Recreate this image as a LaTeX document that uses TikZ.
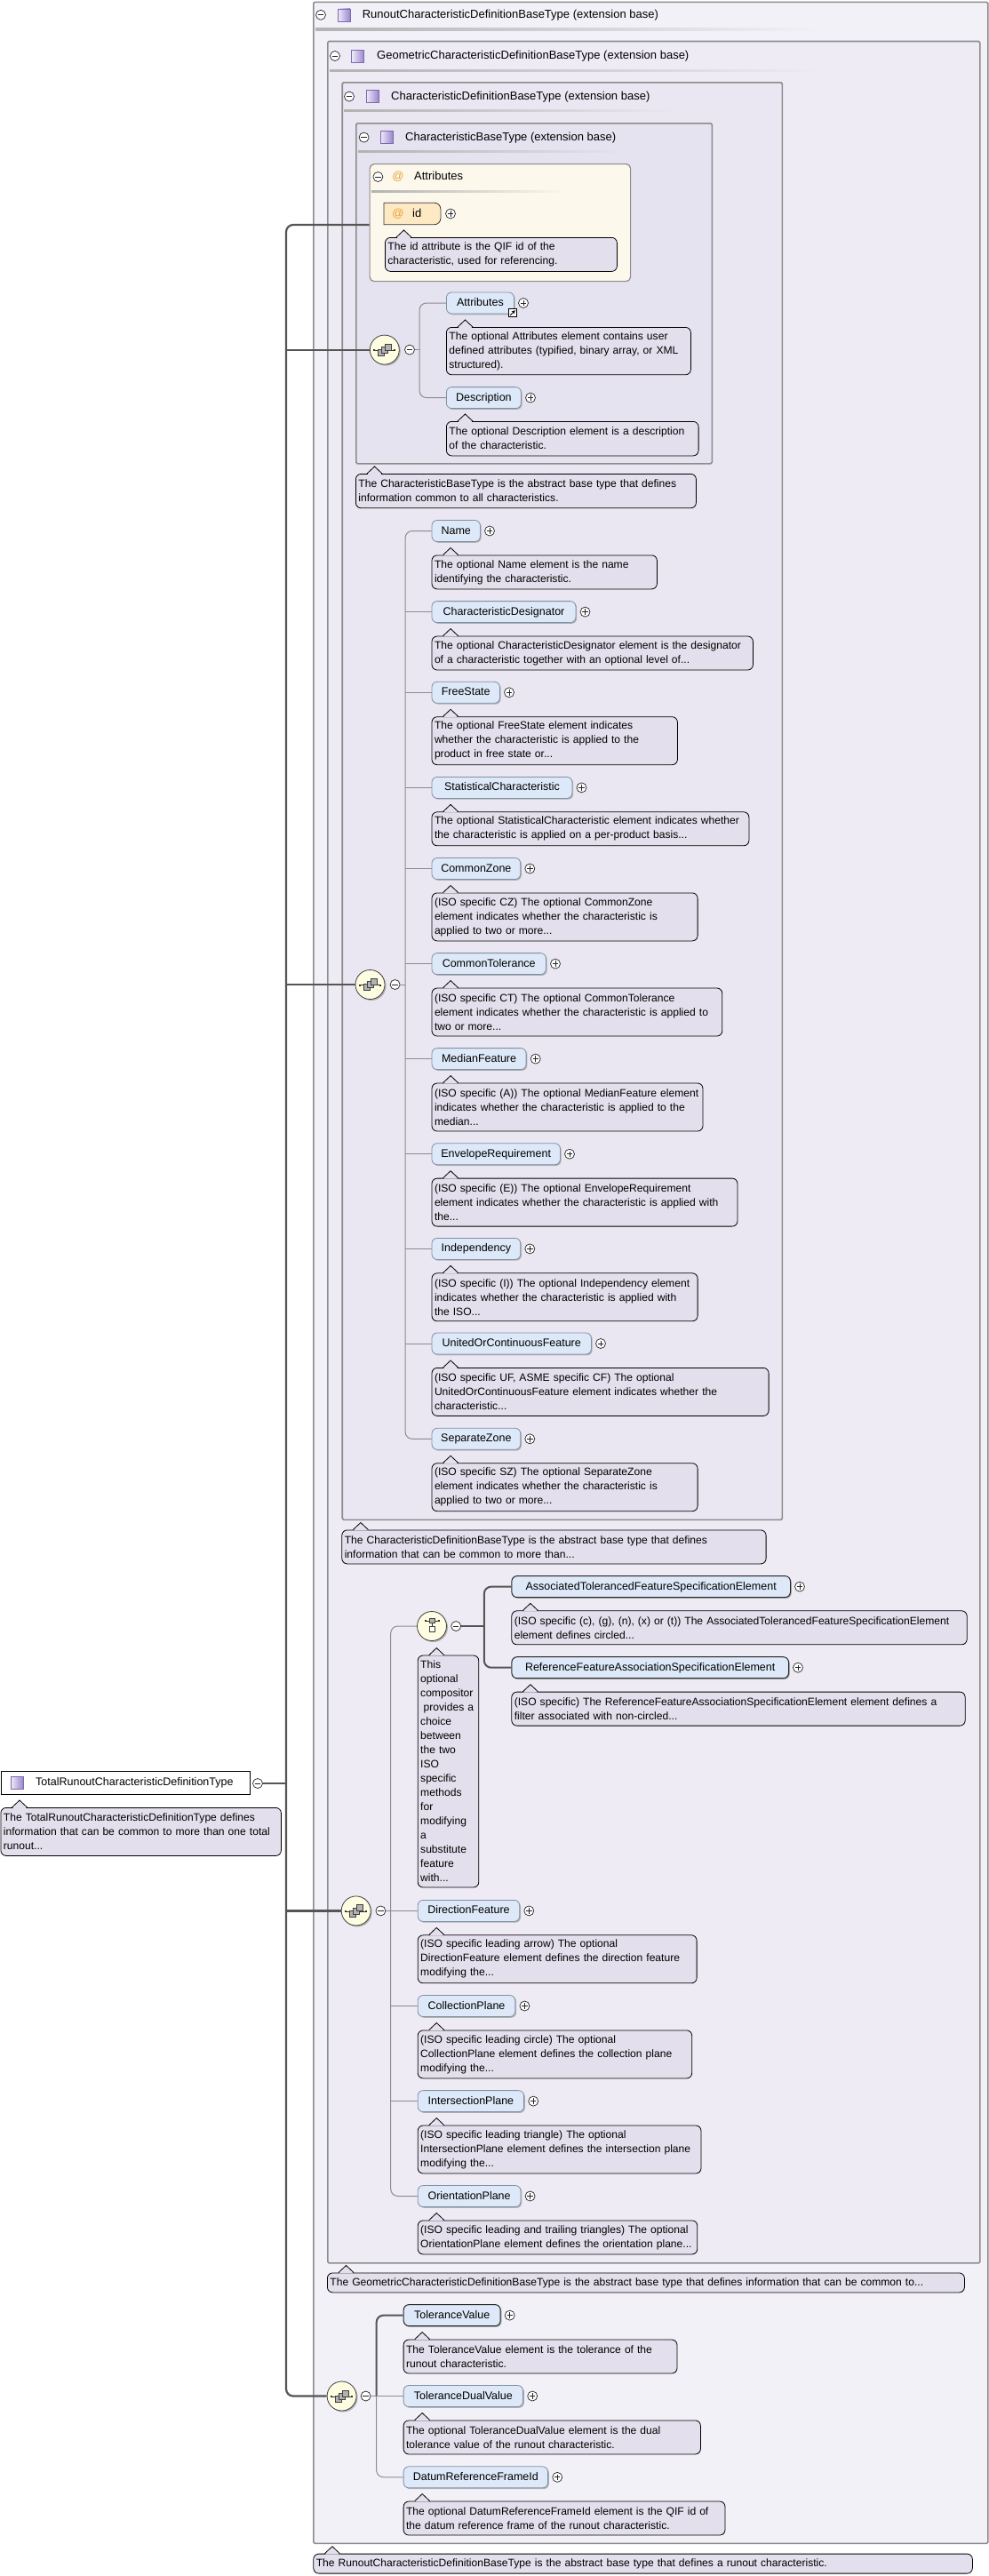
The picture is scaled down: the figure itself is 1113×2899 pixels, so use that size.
\documentclass[tikz,border=0pt]{standalone}
\usepackage{fontspec}
\setmainfont{Liberation Sans}
\usetikzlibrary{shadows}
\definecolor{bgRun}{RGB}{243,241,248}
\definecolor{bgGeo}{RGB}{238,235,245}
\definecolor{bgCD}{RGB}{234,231,242}
\definecolor{bgCB}{RGB}{230,227,240}
\definecolor{descfill}{RGB}{228,223,236}
\definecolor{elemfill}{RGB}{221,233,248}
\definecolor{elemline}{RGB}{128,144,166}
\definecolor{boxline}{RGB}{140,140,140}
\definecolor{trunkc}{RGB}{85,85,85}
\definecolor{thinc}{RGB}{140,140,140}
\definecolor{attrfill}{RGB}{253,248,236}
\definecolor{idfill}{RGB}{253,233,195}
\definecolor{atcolor}{RGB}{232,160,48}
\definecolor{seqfill}{RGB}{255,253,225}
\definecolor{iconA}{RGB}{240,236,250}
\definecolor{iconB}{RGB}{155,135,205}
\definecolor{iconline}{RGB}{125,105,175}
\newcommand\tf{\fontsize{12.5}{16}\selectfont}
\newcommand\hf{\fontsize{13}{16}\selectfont}
\newcommand\df{\fontsize{12.1}{16}\selectfont}
\tikzset{
  hbox/.style={draw=boxline, line width=1.6pt, anchor=north west, inner sep=0pt, rounded corners=1.5pt},
  htext/.style={anchor=west, inner sep=0pt, font=\hf, text height=9.5pt, text depth=2.5pt},
  elem/.style={draw=elemline, fill=elemfill, rounded corners=6pt, minimum height=24pt, inner sep=0pt,
    font=\tf, text height=9.5pt, text depth=2.5pt, anchor=west, line width=0.8pt,
    drop shadow={shadow xshift=1.3pt, shadow yshift=-1.3pt, fill=black!30, opacity=1}},
  reqelem/.style={draw=black!85, line width=1pt},
  desc/.style={draw=black, fill=descfill, rounded corners=6pt, line width=0.8pt, anchor=north west,
    inner xsep=3pt, inner ysep=3pt, font=\df, align=left},
  minusb/.style={circle, draw=black!85, fill=white, minimum size=11pt, inner sep=0pt, line width=0.7pt,
    path picture={\draw[line width=0.7pt] ([xshift=2.3pt]path picture bounding box.west) -- ([xshift=-2.3pt]path picture bounding box.east);}},
  plusb/.style={circle, draw=black!85, fill=white, minimum size=11pt, inner sep=0pt, line width=0.7pt,
    path picture={\draw[line width=0.7pt] ([xshift=2.3pt]path picture bounding box.west) -- ([xshift=-2.3pt]path picture bounding box.east)
      ([yshift=2.3pt]path picture bounding box.south) -- ([yshift=-2.3pt]path picture bounding box.north);}},
  cticon/.style={rectangle, minimum size=14pt, inner sep=0pt, draw=iconline, line width=0.6pt, left color=iconA, right color=iconB},
  seqicon/.style={circle, minimum size=33pt, inner sep=0pt, draw=black!75, fill=seqfill, line width=0.8pt,
    drop shadow={shadow xshift=1.5pt, shadow yshift=-1.5pt, fill=black!30, opacity=1},
    path picture={
      \coordinate (pc) at (path picture bounding box.center);
      \draw[black!80, line width=0.7pt] ([xshift=-12pt,yshift=-0.5pt]pc) -- ([xshift=12pt,yshift=-0.5pt]pc);
      \fill[black!80] ([xshift=-12.5pt,yshift=-1.5pt]pc) rectangle ++(2pt,2pt);
      \fill[black!80] ([xshift=10.5pt,yshift=-1.5pt]pc) rectangle ++(2pt,2pt);
      \foreach \d in {-4,0,4}{\draw[fill=gray!60, draw=black!75, line width=0.6pt] ([xshift={(\d-3.5)*1pt}, yshift={(0.8*\d-3.5)*1pt}]pc) rectangle ++(7pt,7pt);}
    }},
  choiceicon/.style={circle, minimum size=33pt, inner sep=0pt, draw=black!75, fill=seqfill, line width=0.8pt,
    drop shadow={shadow xshift=1.5pt, shadow yshift=-1.5pt, fill=black!30, opacity=1},
    path picture={
      \coordinate (pc) at (path picture bounding box.center);
      \draw[black!80, line width=0.7pt] ([xshift=-8pt,yshift=6pt]pc) -- ([xshift=8pt,yshift=6pt]pc);
      \fill[black!80] ([xshift=-8.5pt,yshift=5pt]pc) rectangle ++(2pt,2pt);
      \fill[black!80] ([xshift=6.5pt,yshift=5pt]pc) rectangle ++(2pt,2pt);
      \draw[black!80, line width=0.6pt] ([yshift=3.3pt]pc) -- ([yshift=-0.7pt]pc);
      \draw[fill=gray!60, draw=black!75, line width=0.6pt] ([xshift=-2.8pt,yshift=3.3pt]pc) rectangle ++(5.6pt,5.6pt);
      \draw[fill=white, draw=black!75, line width=0.6pt] ([xshift=-2.8pt,yshift=-6.3pt]pc) rectangle ++(5.6pt,5.6pt);
    }},
  trunk/.style={draw=trunkc, line width=2.2pt},
  thinl/.style={draw=thinc, line width=1pt}
}
% element: [extra]{name}{left}{right}{cy}{text}
\newcommand\elemnode[6][]{%
  \node[elem,minimum width={#4-#3},#1] (#2) at (#3,#5) {#6};
  \node[plusb] (#2p) at ({#4+11},#5) {};}
% description: {name}{left}{top}{right}{bottom}{lines}
\newcommand\descnode[6]{%
  \pgfmathsetmacro\dtw{#4-#2-6}%
  \node[desc, minimum width={#4-#2}, minimum height={#5-#3}, text width=\dtw pt] (#1) at (#2,#3) {#6};
  \fill[descfill] ([xshift=13.8pt,yshift=-0.8pt]#1.north west) -- ([xshift=21.5pt,yshift=7.2pt]#1.north west) -- ([xshift=29.2pt,yshift=-0.8pt]#1.north west) -- cycle;
  \draw[line width=0.8pt] ([xshift=13pt]#1.north west) -- ([xshift=21.5pt,yshift=8pt]#1.north west) -- ([xshift=30pt]#1.north west);}
% header: {name}{minus x}{y}{icon x}{text x}{text}{underline x0}{underline x1}{bg}
\newcommand\header[9]{%
  \node[minusb] (#1m) at (#2,#3) {};
  \node[cticon] (#1i) at (#4,#3) {};
  \node[htext] (#1t) at (#5,#3) {#6};
  \shade[left color=gray!60, right color=#9] (#7,{#3+15}) rectangle (#8,{#3+17.2});}
\begin{document}
\begin{tikzpicture}[x=1pt,y=-1pt]
\useasboundingbox[fill=white] (0,0) rectangle (1113,2899);
% ---------- nested type boxes ----------
\node[hbox, fill=bgRun, minimum width=759, minimum height=2860] (runout) at (352,1.5) {};
\node[hbox, fill=bgGeo, minimum width=734, minimum height=2500.3] (geo) at (368,45.7) {};
\node[hbox, fill=bgCD, minimum width=495.1, minimum height=1617.5] (chardef) at (384.4,92) {};
\node[hbox, fill=bgCB, minimum width=400.5, minimum height=383] (charbase) at (400,138) {};
\node[hbox, fill=attrfill, line width=1.2pt, rounded corners=5pt, minimum width=293.5, minimum height=132] (attrs) at (415.5,184) {};
\header{hr}{361}{16.8}{387}{407.6}{RunoutCharacteristicDefinitionBaseType (extension base)}{355}{925}{bgRun}
\header{hg}{377}{63}{402.5}{424}{GeometricCharacteristicDefinitionBaseType (extension base)}{371}{925}{bgGeo}
\header{hd}{393}{108.6}{419}{440}{CharacteristicDefinitionBaseType (extension base)}{387}{760}{bgCD}
\header{hb}{409.6}{154.6}{435}{456}{CharacteristicBaseType (extension base)}{403}{703}{bgCB}
% attributes group
\node[minusb] (attrsm) at (425.4,199) {};
\node[htext, text=atcolor, anchor=center] (attrsat) at (448,199) {@};
\node[htext] (attrst) at (466,199) {Attributes};
\shade[left color=gray!60, right color=attrfill] (418,214) rectangle (636,216.2);
\node[minimum width=63.5, minimum height=24, inner sep=0pt, anchor=west] (idn) at (432,240.5) {};
\draw[fill=idfill, draw=black!80, line width=0.8pt] (idn.south west) -- (idn.north west) [rounded corners=7pt] -- (idn.north east) -- (idn.south east) [sharp corners] -- cycle;
\node[htext, text=atcolor, anchor=center] (idat) at (448,240.5) {@};
\node[htext] (idt) at (464,240.5) {id};
\node[plusb] (idp) at (507,240.5) {};
\descnode{idd}{433}{267}{694}{305}{\mbox{The id attribute is the QIF id of the}\\\mbox{characteristic, used for referencing.}}
% ---------- sequence 1 ----------
\node[seqicon] (seq1) at (432.8,393.6) {};
\node[minusb] (seq1m) at (461,393.6) {};
\elemnode{elAttr}{502}{578}{341}{Attributes}
\node[draw=black, fill=white, line width=0.7pt, minimum size=9pt, inner sep=0pt] (attrlink) at (577,352) {};
\draw[line width=0.8pt, -stealth] ([shift={(-2.8pt,-2.8pt)}]attrlink.center) -- ([shift={(2.8pt,2.8pt)}]attrlink.center);
\descnode{dAttr}{502}{368}{777}{421.4}{\mbox{The optional Attributes element contains user}\\\mbox{defined attributes (typified, binary array, or XML}\\\mbox{structured).}}
\elemnode{elDesc}{502}{586}{447.6}{Description}
\descnode{dDesc}{502}{474}{785.7}{512.5}{\mbox{The optional Description element is a description}\\\mbox{of the characteristic.}}
\descnode{dCB}{400}{533}{783}{571.4}{\mbox{The CharacteristicBaseType is the abstract base type that defines}\\\mbox{information common to all characteristics.}}
% ---------- sequence 2 ----------
\node[seqicon] (seq2) at (416.5,1108) {};
\node[minusb] (seq2m) at (444.6,1108) {};
\elemnode{elName}{485.6}{540}{597.5}{Name}
\descnode{dName}{485.6}{624.5}{739}{662.5}{\mbox{The optional Name element is the name}\\\mbox{identifying the characteristic.}}
\elemnode{elCD}{485.6}{647.5}{688.6}{CharacteristicDesignator}
\descnode{dCD}{485.6}{715.6}{847}{753.6}{\mbox{The optional CharacteristicDesignator element is the designator}\\\mbox{of a characteristic together with an optional level of...}}
\elemnode{elFS}{485.6}{562}{779.3}{FreeState}
\descnode{dFS}{485.6}{806.3}{762}{860.3}{\mbox{The optional FreeState element indicates}\\\mbox{whether the characteristic is applied to the}\\\mbox{product in free state or...}}
\elemnode{elSC}{485.6}{643.5}{886.4}{StatisticalCharacteristic}
\descnode{dSC}{485.6}{913.4}{842.5}{951.4}{\mbox{The optional StatisticalCharacteristic element indicates whether}\\\mbox{the characteristic is applied on a per-product basis...}}
\elemnode{elCZ}{485.6}{585.3}{977.5}{CommonZone}
\descnode{dCZ}{485.6}{1004.5}{784.7}{1058.5}{\mbox{(ISO specific CZ) The optional CommonZone}\\\mbox{element indicates whether the characteristic is}\\\mbox{applied to two or more...}}
\elemnode{elCT}{485.6}{614}{1084.6}{CommonTolerance}
\descnode{dCT}{485.6}{1111.6}{812.4}{1165.6}{\mbox{(ISO specific CT) The optional CommonTolerance}\\\mbox{element indicates whether the characteristic is applied to}\\\mbox{two or more...}}
\elemnode{elMF}{485.6}{591.7}{1191.6}{MedianFeature}
\descnode{dMF}{485.6}{1218.6}{790.6}{1272.6}{\mbox{(ISO specific (A)) The optional MedianFeature element}\\\mbox{indicates whether the characteristic is applied to the}\\\mbox{median...}}
\elemnode{elER}{485.6}{630}{1298.7}{EnvelopeRequirement}
\descnode{dER}{485.6}{1325.7}{829.6}{1379.7}{\mbox{(ISO specific (E)) The optional EnvelopeRequirement}\\\mbox{element indicates whether the characteristic is applied with}\\\mbox{the...}}
\elemnode{elInd}{485.6}{585.3}{1405.4}{Independency}
\descnode{dInd}{485.6}{1432.4}{784.7}{1486.4}{\mbox{(ISO specific (I)) The optional Independency element}\\\mbox{indicates whether the characteristic is applied with}\\\mbox{the ISO...}}
\elemnode{elUC}{485.6}{665}{1512}{UnitedOrContinuousFeature}
\descnode{dUC}{485.6}{1539}{864.7}{1593}{\mbox{(ISO specific UF, ASME specific CF) The optional}\\\mbox{UnitedOrContinuousFeature element indicates whether the}\\\mbox{characteristic...}}
\elemnode{elSep}{485.6}{585.3}{1619.3}{SeparateZone}
\descnode{dSep}{485.6}{1646.3}{784.7}{1700.3}{\mbox{(ISO specific SZ) The optional SeparateZone}\\\mbox{element indicates whether the characteristic is}\\\mbox{applied to two or more...}}
\descnode{dCDT}{384.4}{1721.5}{861.7}{1759.5}{\mbox{The CharacteristicDefinitionBaseType is the abstract base type that defines}\\\mbox{information that can be common to more than...}}
% ---------- sequence 3 with choice ----------
\node[choiceicon] (choice) at (486,1830) {};
\node[minusb] (choicem) at (513.2,1830) {};
\elemnode[reqelem]{elAT}{575.4}{889}{1785.6}{AssociatedTolerancedFeatureSpecificationElement}
\descnode{dAT}{575.4}{1812.4}{1087.8}{1850.4}{\mbox{(ISO specific (c), (g), (n), (x) or (t)) The AssociatedTolerancedFeatureSpecificationElement}\\\mbox{element defines circled...}}
\elemnode[reqelem]{elRF}{575.4}{887}{1876.7}{ReferenceFeatureAssociationSpecificationElement}
\descnode{dRF}{575.4}{1903.7}{1085.8}{1941.7}{\mbox{(ISO specific) The ReferenceFeatureAssociationSpecificationElement element defines a}\\\mbox{filter associated with non-circled...}}
\descnode{dCh}{469.8}{1862.6}{538.4}{2123.6}{This\\optional\\\mbox{compositor}\\\hspace*{3.5pt}provides a\\choice\\between\\the two\\ISO\\specific\\methods\\for\\modifying\\a\\substitute\\feature\\with...}
\node[seqicon] (seq3) at (400.7,2150.4) {};
\node[minusb] (seq3m) at (428.4,2150.4) {};
\elemnode{elDF}{469.8}{584.3}{2150.4}{DirectionFeature}
\descnode{dDF}{469.8}{2177.4}{783.7}{2231.4}{\mbox{(ISO specific leading arrow) The optional}\\\mbox{DirectionFeature element defines the direction feature}\\\mbox{modifying the...}}
\elemnode{elCP}{469.8}{579.4}{2257.5}{CollectionPlane}
\descnode{dCP}{469.8}{2284.5}{778.3}{2338.5}{\mbox{(ISO specific leading circle) The optional}\\\mbox{CollectionPlane element defines the collection plane}\\\mbox{modifying the...}}
\elemnode{elIP}{469.8}{589.2}{2364.6}{IntersectionPlane}
\descnode{dIP}{469.8}{2391.6}{788.6}{2445.6}{\mbox{(ISO specific leading triangle) The optional}\\\mbox{IntersectionPlane element defines the intersection plane}\\\mbox{modifying the...}}
\elemnode{elOP}{469.8}{585.6}{2471.5}{OrientationPlane}
\descnode{dOP}{469.8}{2498.5}{784.4}{2536.5}{\mbox{(ISO specific leading and trailing triangles) The optional}\\\mbox{OrientationPlane element defines the orientation plane...}}
\descnode{dGeo}{368}{2557.5}{1085}{2579.5}{\mbox{The GeometricCharacteristicDefinitionBaseType is the abstract base type that defines information that can be common to...}}
% ---------- sequence 4 ----------
\node[seqicon] (seq4) at (384.6,2696.5) {};
\node[minusb] (seq4m) at (411.6,2696.5) {};
\elemnode[reqelem]{elTV}{453.7}{562.7}{2605.6}{ToleranceValue}
\descnode{dTV}{453.7}{2632.6}{761.6}{2670.6}{\mbox{The ToleranceValue element is the tolerance of the}\\\mbox{runout characteristic.}}
\elemnode{elTD}{453.7}{588.2}{2696.5}{ToleranceDualValue}
\descnode{dTD}{453.7}{2723.5}{788}{2761.5}{\mbox{The optional ToleranceDualValue element is the dual}\\\mbox{tolerance value of the runout characteristic.}}
\elemnode{elDR}{453.7}{616.2}{2787.8}{DatumReferenceFrameId}
\descnode{dDR}{453.7}{2814.6}{815.6}{2852.6}{\mbox{The optional DatumReferenceFrameId element is the QIF id of}\\\mbox{the datum reference frame of the runout characteristic.}}
\descnode{dRun}{352.4}{2873.7}{1094}{2895.7}{\mbox{The RunoutCharacteristicDefinitionBaseType is the abstract base type that defines a runout characteristic.}}
% ---------- root ----------
\node[draw=black, fill=white, line width=0.8pt, minimum width=280.2, minimum height=26, inner sep=0pt, anchor=north west] (total) at (0.5,1993.3) {};
\node[cticon] (totali) at (19,2006.3) {};
\node[htext, font=\tf] (totalt) at (40,2006.3) {TotalRunoutCharacteristicDefinitionType};
\node[minusb] (totalm) at (290,2007) {};
\descnode{dTotal}{0.5}{2034}{316}{2088}{\mbox{The TotalRunoutCharacteristicDefinitionType defines}\\\mbox{information that can be common to more than one total}\\\mbox{runout...}}
% ---------- connectors ----------
\coordinate (tr) at (322,253);
\draw[trunk, rounded corners=8pt] (attrs.west |- tr) -- (tr) -- (tr |- seq4) -- (seq4.west);
\draw[trunk] (tr |- seq1) -- (seq1.west);
\draw[trunk] (tr |- seq2) -- (seq2.west);
\draw[trunk] (tr |- seq3) -- (seq3.west);
\draw[trunk] (totalm.east) -- (tr |- totalm);
\coordinate (b1) at (472,341);
\draw[thinl] (seq1m.east) -- (b1 |- seq1m);
\draw[thinl, rounded corners=8pt] (elAttr.west) -- (b1 |- elAttr) -- (b1 |- elDesc) -- (elDesc.west);
\coordinate (b2) at (456,597.5);
\draw[thinl] (seq2m.east) -- (b2 |- seq2m);
\draw[thinl, rounded corners=8pt] (elName.west) -- (b2 |- elName) -- (b2 |- elSep) -- (elSep.west);
\foreach \n in {elCD,elFS,elSC,elCZ,elCT,elMF,elER,elInd,elUC} \draw[thinl] (b2 |- \n) -- (\n.west);
\coordinate (b3) at (439.7,1830);
\draw[thinl, rounded corners=8pt] (choice.west) -- (b3 |- choice) -- (b3 |- elOP) -- (elOP.west);
\draw[thinl] (seq3m.east) -- (elDF.west);
\foreach \n in {elCP,elIP} \draw[thinl] (b3 |- \n) -- (\n.west);
\coordinate (bc) at (544.8,1830);
\draw[trunk, line width=2pt] (choicem.east) -- (bc |- choicem);
\draw[trunk, line width=2pt, rounded corners=8pt] (elAT.west) -- (bc |- elAT) -- (bc |- elRF) -- (elRF.west);
\coordinate (b4) at (423.6,2605.6);
\draw[thinl] (seq4m.east) -- (b4 |- seq4m);
\draw[trunk, line width=2pt, rounded corners=8pt] (elTV.west) -- (b4 |- elTV) -- (b4 |- seq4m);
\draw[thinl, rounded corners=8pt] (b4 |- seq4m) -- (b4 |- elDR) -- (elDR.west);
\draw[thinl] (b4 |- elTD) -- (elTD.west);
\end{tikzpicture}
\end{document}
